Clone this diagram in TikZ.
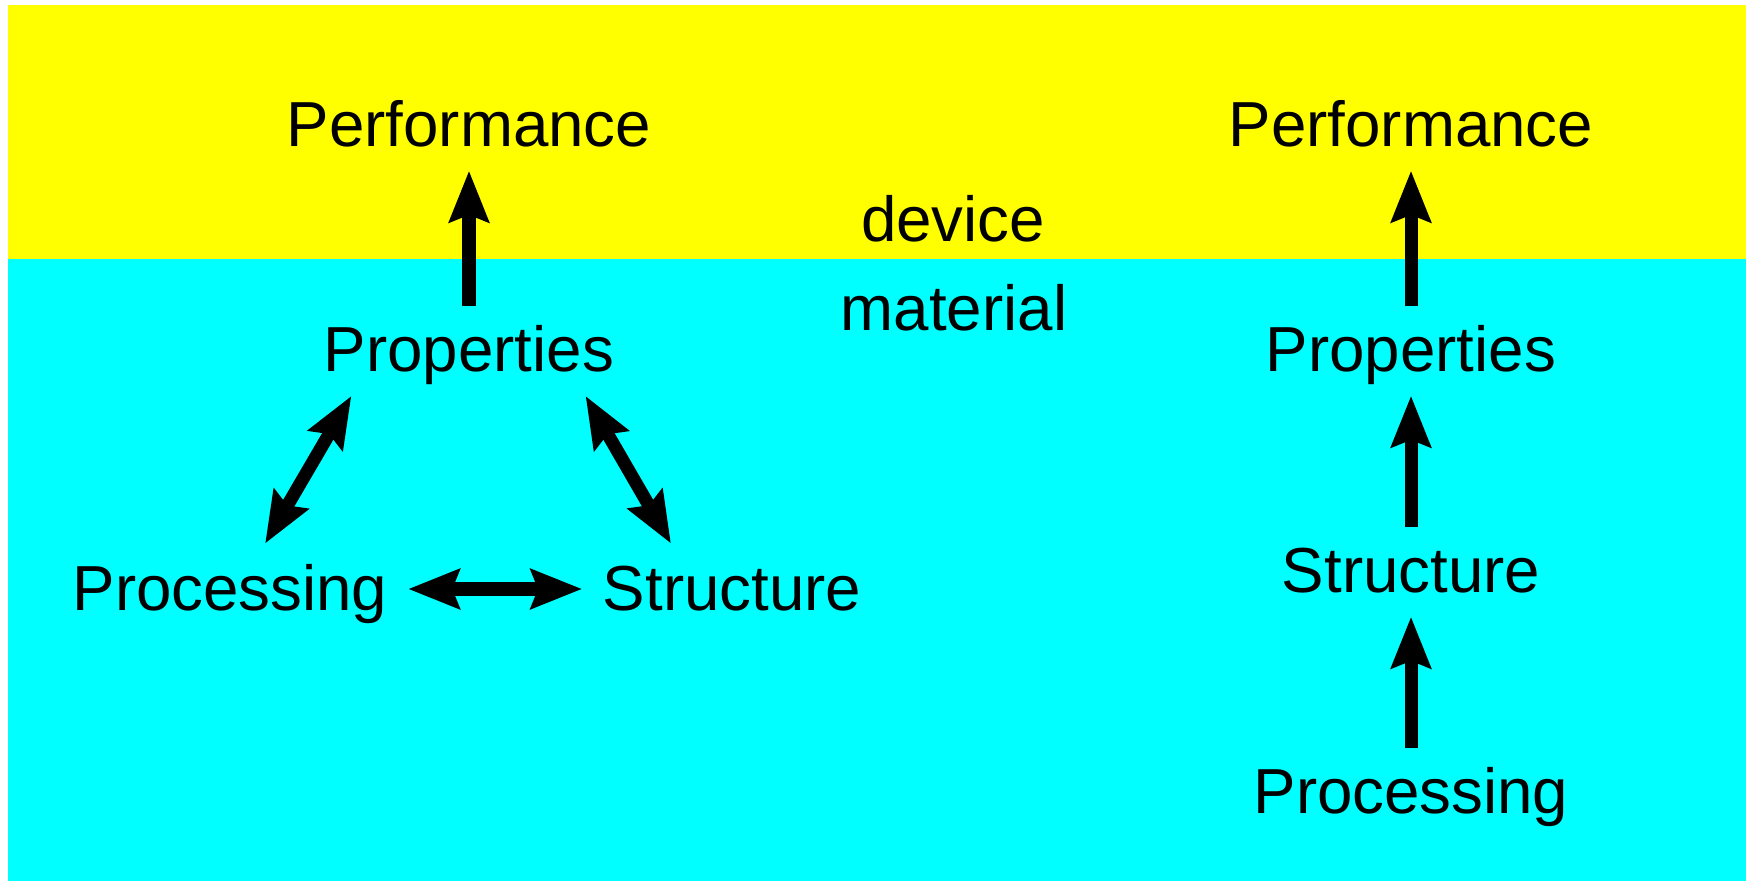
\documentclass[tikz,border=0pt]{standalone}
\usepackage{fontspec}
\setmainfont{Liberation Sans}
\usetikzlibrary{arrows.meta}

\definecolor{devyellow}{RGB}{255,255,0}
\definecolor{matcyan}{RGB}{0,255,255}

\tikzset{
  lbl/.style={anchor=base,inner sep=0pt,text height=0.45cm,text depth=0.13cm,
    font=\fontsize{18.1}{22}\selectfont},
  flow/.style={line width=0.13cm,-{Stealth[length=0.51cm,width=0.39cm,inset=0.07cm]},
    shorten <=0.19cm,shorten >=0.11cm},
  link/.style={line width=0.13cm,
    {Stealth[length=0.51cm,width=0.39cm,inset=0.07cm]}-{Stealth[length=0.51cm,width=0.39cm,inset=0.07cm]}}
}

\begin{document}
\begin{tikzpicture}[x=0.01cm,y=-0.01cm]

\def\DEVCOLOR{devyellow}
\def\MATCOLOR{matcyan}
	\useasboundingbox (0,0) rectangle (1753,881);
	\fill[\DEVCOLOR] (8,5) rectangle (1746,259);
	\fill[\MATCOLOR] (8,259) rectangle (1746,881);

	% left: the tetrahedron
	\node[lbl] (perfL) at (469,146) {Performance};
	\node[lbl] (propL) at (469,371) {Properties};
	\node[lbl] (procL) at (230,610) {Processing};
	\node[lbl] (strucL) at (732,610) {Structure};

	\draw[flow] (propL.north) -- (perfL.south);
	\draw[link,shorten <=0.24cm,shorten >=0.13cm] ([xshift=0.23cm]procL.north) -- ([xshift=-1.11cm]propL.south);
	\draw[link,shorten <=0.24cm,shorten >=0.13cm] ([xshift=-0.49cm]strucL.north) -- ([xshift=1.1cm]propL.south);
	\draw[link,shorten <=0.2cm,shorten >=0.2cm] ([yshift=0.05cm]procL.east) -- ([yshift=0.05cm]strucL.west);

	% middle
	\node[lbl] (dev) at (953,241) {device};
	\node[lbl] (mat) at (954,330) {material};

	% right: the chain
	\node[lbl] (perfR) at (1411,146) {Performance};
	\node[lbl] (propR) at (1411,371) {Properties};
	\node[lbl] (strucR) at (1411,592) {Structure};
	\node[lbl] (procR) at (1411,813) {Processing};

	\draw[flow] (propR.north) -- (perfR.south);
	\draw[flow] (strucR.north) -- (propR.south);
	\draw[flow] (procR.north) -- (strucR.south);

\end{tikzpicture}
\end{document}
